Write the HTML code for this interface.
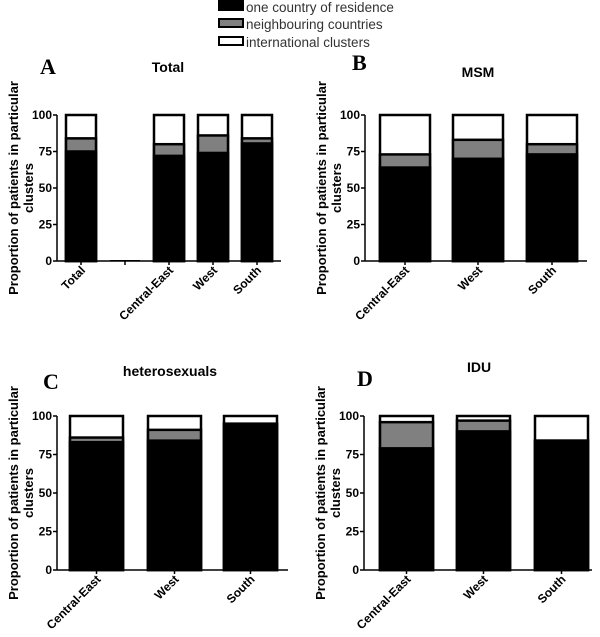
<!DOCTYPE html>
<html><head><meta charset="utf-8"><style>
body{margin:0;background:#fff}
svg{display:block;font-family:"Liberation Sans",Arial,sans-serif}
.tk{font-size:12px;font-weight:bold;text-anchor:end}
.xl{font-size:12px;font-weight:bold;text-anchor:end}
.yt{font-size:13px;font-weight:bold;text-anchor:middle}
.ti{font-size:14px;font-weight:bold;text-anchor:middle}
.pl{font-family:"Liberation Serif",serif;font-size:22px;font-weight:bold}
.lg{font-size:13.5px;fill:#333}
</style></head><body>
<svg id="c" width="600" height="637">
<g>
<rect x="219" y="1" width="24" height="9" fill="#000" stroke="#000" stroke-width="2"/>
<text x="246" y="12" class="lg">one country of residence</text>
<rect x="219" y="19" width="24" height="8" fill="#808080" stroke="#000" stroke-width="2"/>
<text x="246" y="29" class="lg">neighbouring countries</text>
<rect x="219" y="37" width="24" height="8" fill="#fff" stroke="#000" stroke-width="2"/>
<text x="246" y="47" class="lg">international clusters</text>
</g>
</svg>
<script>
const catsA=["Total","","Central-East","West","South"];
const blackA=[75,0,72,74,80.5];
const greyA=[9,0,8,12,3.5];
const catsB=["Central-East","West","South"];
const blackB=[64,70,73];
const greyB=[9,13,7];
const catsC=["Central-East","West","South"];
const blackC=[83,84,95];
const greyC=[3,7,0];
const catsD=["Central-East","West","South"];
const blackD=[79,90,84];
const greyD=[17,7,0];
const ticks=[0,25,50,75,100];
const NS="http://www.w3.org/2000/svg";
const svg=document.getElementById('c');
function mk(t,a,p){const e=document.createElementNS(NS,t);for(const k in a)e.setAttribute(k,a[k]);(p||svg).appendChild(e);return e;}
const panels=[
 {id:"a",letter:"A",title:"Total",cats:catsA,blk:blackA,gry:greyA,ax:57,axEnd:281,y0:261,y100:115,bx:[66,110,154,198,242],bw:30,lx:40,ly:74,tx:168,ty:72,yc:188},
 {id:"b",letter:"B",title:"MSM",cats:catsB,blk:blackB,gry:greyB,ax:365,axEnd:587,y0:261,y100:115,bx:[380,453,527],bw:50,lx:352,ly:70,tx:478,ty:77,yc:188},
 {id:"c",letter:"C",title:"heterosexuals",cats:catsC,blk:blackC,gry:greyC,ax:57,axEnd:288,y0:570,y100:416,bx:[70,148,224],bw:53,lx:43,ly:389,tx:170,ty:376,yc:493},
 {id:"d",letter:"D",title:"IDU",cats:catsD,blk:blackD,gry:greyD,ax:364,axEnd:592,y0:570,y100:416,bx:[380,457,535],bw:53,lx:357,ly:386,tx:479,ty:372,yc:493}
];
panels.forEach(p=>{
 const g=mk('g',{});
 
 
 const y=v=>p.y0-(v/100)*(p.y0-p.y100);
 const L=mk('text',{x:p.lx,y:p.ly,class:'pl'},g);L.textContent=p.letter;
 
 
 const T=mk('text',{x:p.tx,y:p.ty,class:'ti'},g);T.textContent=p.title;
 
 
 const yt=mk('text',{class:'yt',transform:`translate(${p.ax-39},${p.yc}) rotate(-90)`},g);
 
 
 const t1=mk('tspan',{x:0,y:0},yt);t1.textContent="Proportion of patients in particular";
 const t2=mk('tspan',{x:0,y:15},yt);t2.textContent="clusters";
 p.cats.forEach((c,i)=>{
  const x=p.bx[i],b=p.blk[i],gr=p.gry[i];
  if(c===""){const r=mk('rect',{x:x,y:y(0)-1,width:p.bw,height:1.5,fill:'#000'},g);
   
   }
  else{
   const w=mk('rect',{x:x,y:y(100),width:p.bw,height:y(0)-y(100),fill:'#fff',stroke:'#000','stroke-width':2.5},g);
   
   
   const gg=mk('rect',{x:x,y:y(b+gr),width:p.bw,height:y(0)-y(b+gr),fill:'#808080',stroke:'#000','stroke-width':2.5},g);
   
   
   const k=mk('rect',{x:x,y:y(b),width:p.bw,height:y(0)-y(b),fill:'#000',stroke:'#000','stroke-width':2.5},g);
   
   
  }
  const cx=x+p.bw/2;
  mk('line',{x1:cx,x2:cx,y1:p.y0,y2:p.y0+4,stroke:'#000','stroke-width':1.5},g);
  if(c){const xl=mk('text',{class:'xl',transform:`translate(${cx+5},${p.y0+10}) rotate(-45)`},g);xl.textContent=c;
   
   }
 });
 const ya=mk('line',{x1:p.ax,x2:p.ax,y1:y(100),y2:p.y0,stroke:'#000','stroke-width':1.5},g);
 
 
 const xa=mk('line',{x1:p.ax,x2:p.axEnd,y1:p.y0,y2:p.y0,stroke:'#000','stroke-width':1.5},g);
 
 
 ticks.forEach(t=>{
  mk('line',{x1:p.ax-4,x2:p.ax,y1:y(t),y2:y(t),stroke:'#000','stroke-width':1.5},g);
  const tl=mk('text',{x:p.ax-5,y:y(t)+4,class:'tk'},g);tl.textContent=t;
  
  
 });
});
</script>
</body></html>
